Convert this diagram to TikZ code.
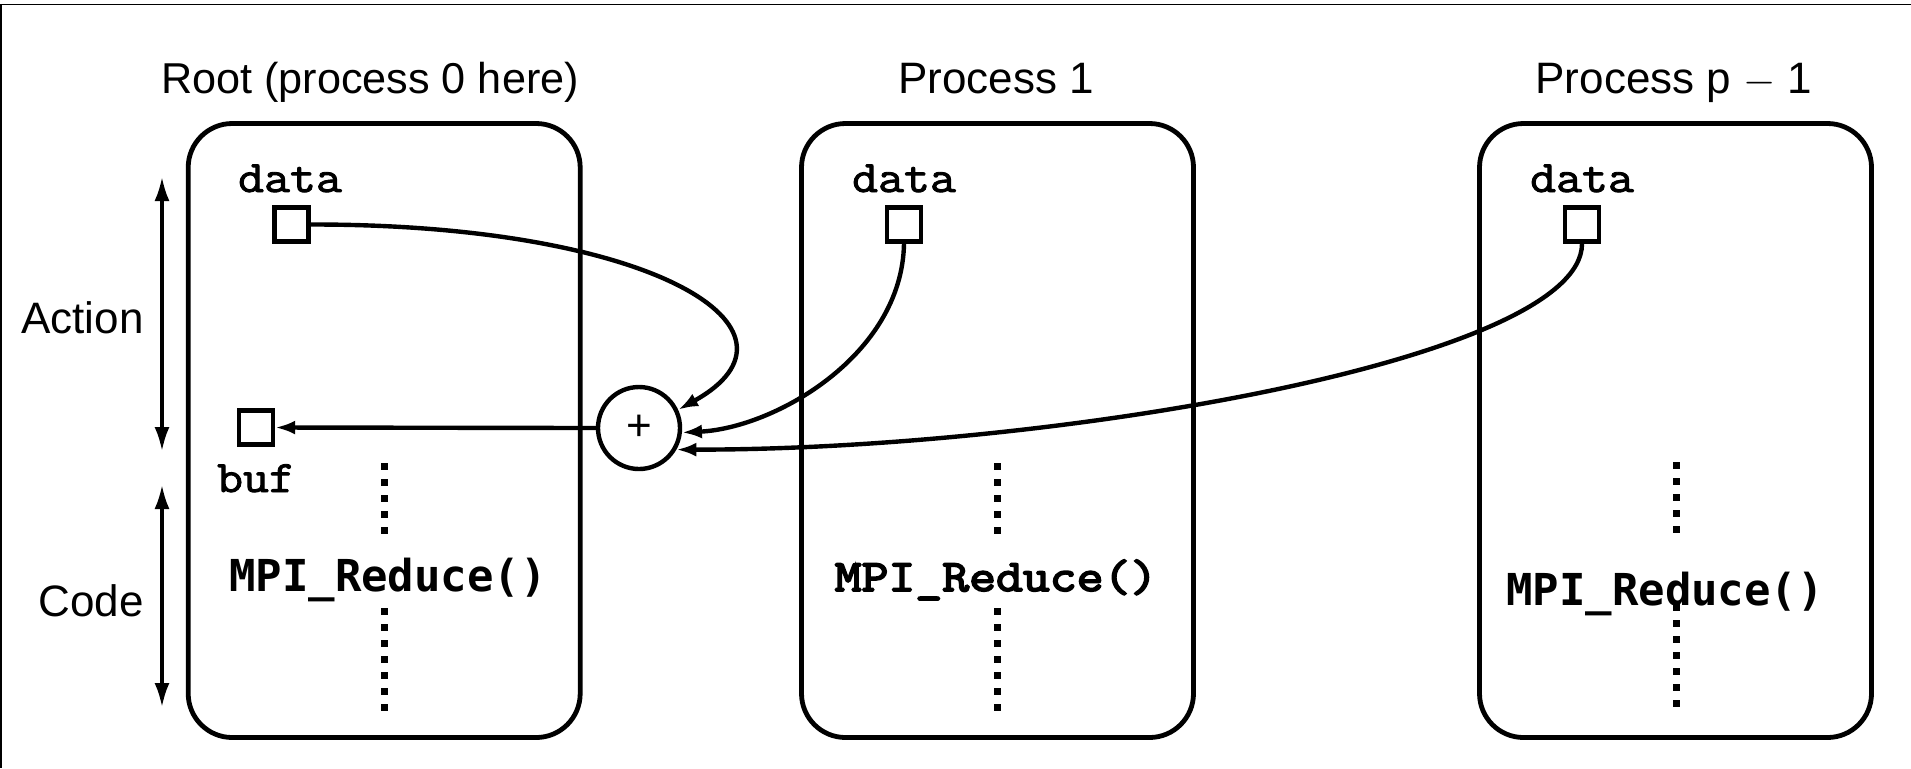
\documentclass[tikz,border=0pt]{standalone}
\usepackage{fontspec}
\setmainfont{Liberation Sans}
\newfontfamily\sansmono{DejaVu Sans Mono}
\newfontfamily\labelmono{Latin Modern Mono}[FakeBold=2, FakeStretch=1.12]
\newfontfamily\heavymono{Latin Modern Mono}[FakeBold=4, FakeStretch=1.16]
\usetikzlibrary{arrows.meta}

\begin{document}
\begin{tikzpicture}[x=0.5pt,y=-0.5pt,
  procbox/.style={draw, line width=2.4pt, rounded corners=22pt,
    minimum width=196pt, minimum height=307pt, inner sep=0pt},
  cell/.style={draw, line width=2.2pt, minimum size=17pt, inner sep=0pt},
  title/.style={anchor=base, font=\fontsize{22}{26}\selectfont, inner sep=0pt},
  varname/.style={anchor=base, font=\labelmono\fontsize{22.5}{26}\selectfont, inner sep=0pt},
  callA/.style={anchor=base, font=\sansmono\bfseries\fontsize{22}{26}\selectfont, inner sep=0pt},
  callB/.style={anchor=base, font=\heavymono\fontsize{22.5}{26}\selectfont, inner sep=0pt},
  flow/.style={line width=2.2pt, -{Latex[length=10pt,width=7pt]}},
  span/.style={line width=1.6pt, {Latex[length=12pt,width=7.5pt]}-{Latex[length=12pt,width=7.5pt]}},
  dots/.style={line width=3.5pt, dash pattern=on 3.5pt off 4.5pt}
]
\useasboundingbox (0,0) rectangle (1911,768);

% frame lines along the top and left edges
\draw[line width=0.8pt] (0,4.5) -- (1911,4.5);
\draw[line width=0.8pt] (1,4.5) -- (1,768);

% process boxes
\node[procbox] (box0) at (384.2,430.5) {};
\node[procbox] (box1) at (997.5,430.5) {};
\node[procbox] (box2) at (1675.5,430.5) {};

% titles
\node[title, font=\fontsize{21.6}{26}\selectfont] (t0) at (370,93) {Root (process 0 here)};
\node[title] (t1) at (996,93) {Process 1};
\node[title] (t2) at (1674,93) {Process p $-$ 1};

% side labels with their spans
\node[title, anchor=base east] (lact) at (144,333) {Action};
\node[title, anchor=base east] (lcode) at (144,616) {Code};
\coordinate (acttop) at (162,177);
\coordinate (actbot) at (162,451);
\coordinate (codetop) at (162,485);
\coordinate (codebot) at (162,707);
\draw[span] (acttop) -- (actbot);
\draw[span] (codetop) -- (codebot);

% vertical dotted code lines
\draw[dots] (384,463) -- (384,535);
\draw[dots] (384,608) -- (384,711);
\draw[dots] (997,463) -- (997,535);
\draw[dots] (997,608) -- (997,711);
\draw[dots] (1676,462) -- (1676,534);
\draw[dots] (1676,604) -- (1676,707);

% the calls
\node[callA] (call0) at (388,591) {MPI\_Reduce()};
\node[callB] (call1) at (996,591) {MPI\_Reduce()};
\node[callA] (call2) at (1665,605) {MPI\_Reduce()};

% data cells and buffer
\node[cell] (d0) at (291.5,224.5) {};
\node[cell] (d1) at (904,224.5) {};
\node[cell] (d2) at (1582,224.5) {};
\node[cell] (buf) at (256,427.5) {};
\node[varname] (ld0) at (290,192) {data};
\node[varname] (ld1) at (904,192) {data};
\node[varname] (ld2) at (1582,192) {data};
\node[varname] (lbuf) at (256,492) {buf};

% reduction operator
\node[draw, circle, line width=2.2pt, minimum size=41pt, inner sep=0pt,
      font=\fontsize{22}{26}\selectfont] (plus) at (639,428) {+};

% contributions flowing into the operator
\draw[flow] (d0.east) .. controls (655,224) and (822,330) .. (plus.25);
\draw[flow] (d1.south) .. controls (902,355) and (775,428) .. (plus.-6);
\draw[flow] (d2.south) .. controls (1582,360) and (1050,450) .. (plus.-30);
\draw[flow] (plus.west) -- (buf.east);
\end{tikzpicture}
\end{document}
